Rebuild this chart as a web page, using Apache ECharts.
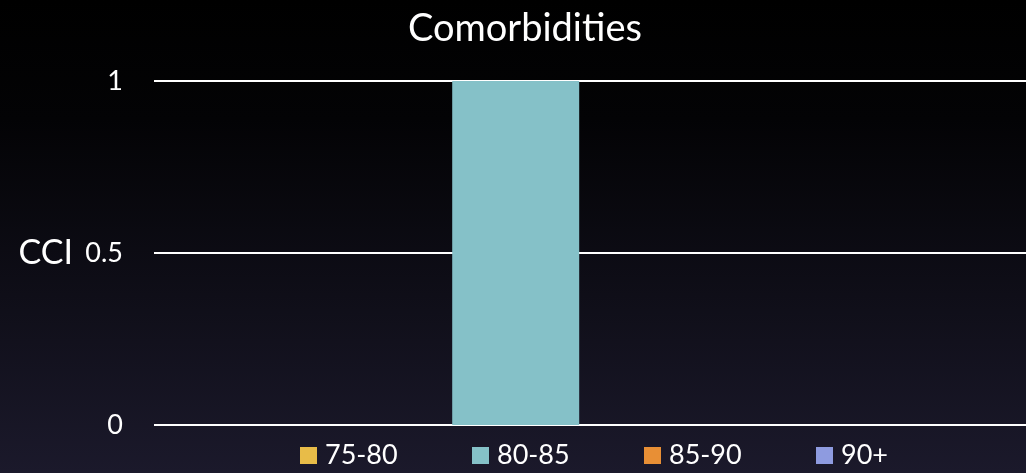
<!DOCTYPE html>
<html>
<head>
<meta charset="utf-8">
<script src="https://cdn.jsdelivr.net/npm/echarts@6/dist/echarts.min.js"></script>
<style>
  html, body { margin: 0; padding: 0; }
  #chart { width: 1026px; height: 473px; }
</style>
</head>
<body>
<div id="chart"></div>
<script>
// Charlson Comorbidity Index by age group
const categories = [''];
const ageGroups = ['75-80', '80-85', '85-90', '90+'];
const cciValues = [[0], [1], [0], [0]];
const groupColors = ['#e8bc48', '#85c1c8', '#e88f35', '#8e9be0'];
const yTicks = { min: 0, max: 1, interval: 0.5 };

const FONT = 'Lato, "Open Sans", sans-serif';
// legend entries sit in evenly spaced columns below the plot
const LEGEND_LEFT = 300;
const LEGEND_STEP = 172;

const chart = echarts.init(document.getElementById('chart'));

const series = ageGroups.map((name, i) => ({
  name: name,
  type: 'bar',
  data: cciValues[i],
  barWidth: 127,
  barGap: '17%',
  itemStyle: { color: groupColors[i] },
  z: 3
}));

const legends = ageGroups.map((name, i) => ({
  data: [name],
  left: LEGEND_LEFT + i * LEGEND_STEP,
  top: 442,
  padding: 0,
  itemWidth: 17,
  itemHeight: 17,
  icon: 'rect',
  textStyle: { color: '#ffffff', fontFamily: FONT, fontSize: 27, padding: [0, 0, 0, 3] }
}));

chart.setOption({
  backgroundColor: {
    type: 'linear', x: 0, y: 0, x2: 0, y2: 1,
    colorStops: [
      { offset: 0, color: '#000000' },
      { offset: 0.25, color: '#030305' },
      { offset: 1, color: '#1b192b' }
    ]
  },
  animation: false,
  title: {
    text: 'Comorbidities',
    left: 403,
    top: 5,
    textStyle: { color: '#ffffff', fontFamily: FONT, fontSize: 38, fontWeight: 'normal' }
  },
  legend: legends,
  grid: { left: 154, right: 0, top: 81, bottom: 48, containLabel: false },
  xAxis: {
    type: 'category',
    data: categories,
    axisLine: { show: false },
    axisTick: { show: false },
    axisLabel: { show: false }
  },
  yAxis: {
    type: 'value',
    min: yTicks.min,
    max: yTicks.max,
    interval: yTicks.interval,
    name: 'CCI',
    nameLocation: 'middle',
    nameRotate: 0,
    nameGap: 81,
    nameTextStyle: { color: '#ffffff', fontFamily: FONT, fontSize: 34, align: 'right' },
    axisLine: { show: false },
    axisTick: { show: false },
    axisLabel: {
      color: '#ffffff',
      fontFamily: FONT,
      fontSize: 27,
      margin: 31,
      formatter: v => String(v)
    },
    splitLine: { lineStyle: { color: '#ffffff', width: 2 } }
  },
  series: series
});
</script>
</body>
</html>
